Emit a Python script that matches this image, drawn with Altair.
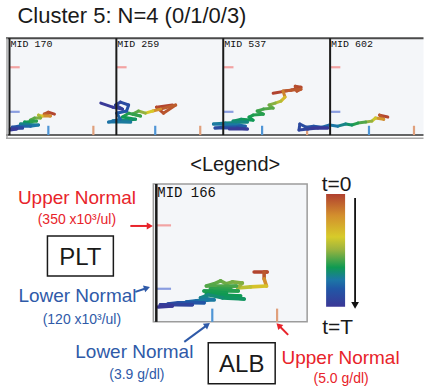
import math
import altair as alt
import pandas as pd

# ---------------- data ----------------
TITLE = "Cluster 5: N=4 (0/1/0/3)"
PANEL_LABELS = ["MID 170", "MID 259", "MID 537", "MID 602"]
LEGEND_LABEL = "MID 166"

ALB_MIN, ALB_MAX = 2.95, 5.55
ALB_MAX_LEG = 5.51
PLT_MIN, PLT_MAX = 0, 500
ALB_LOW, ALB_UP = 3.9, 5.0
PLT_LOW, PLT_UP = 120, 350

# trajectories (ALB g/dl, PLT x10^3/ul), ordered t=0 -> t=T, with time fraction
alb_170 = [4.05, 3.90, 3.80, 3.95, 3.75, 3.66, 3.71, 3.56, 3.46, 3.61, 3.41, 3.32, 3.39, 3.22, 3.66, 3.46, 3.17, 3.02, 3.27, 2.97, 3.12, 2.97]
plt_170 = [108, 118, 108, 98, 98, 103, 88, 88, 77, 72, 67, 67, 57, 57, 52, 46, 46, 41, 36, 31, 31, 26]
t_170 = [0, .03, .06, .1, .3, .42, .5, .55, .58, .61, .63, .65, .67, .7, .74, .78, .82, .86, .9, .94, .97, 1.0]

alb_259 = [4.32, 3.93, 4.10, 4.40, 4.03, 3.84, 3.66, 3.49, 3.35, 3.54, 3.25, 3.10, 3.42, 3.20, 2.86, 3.30, 2.76, 3.05, 2.96, 3.20, 3.25, 3.05, 2.93, 3.10, 2.86, 2.57]
plt_259 = [155, 144, 113, 155, 134, 124, 113, 124, 108, 98, 113, 93, 82, 77, 72, 67, 67, 82, 113, 124, 155, 170, 155, 134, 144, 165]
t_259 = [0, .02, .04, .06, .08, .3, .45, .55, .58, .6, .62, .64, .66, .69, .72, .74, .76, .79, .82, .85, .88, .91, .93, .95, .97, 1.0]

alb_537 = [4.17, 4.61, 4.85, 4.71, 4.75, 4.85, 4.41, 4.46, 4.36, 4.22, 4.07, 4.17, 3.93, 3.78, 3.93, 3.68, 3.58, 3.68, 3.39, 3.19, 3.54, 3.00, 2.71, 3.34, 3.49, 2.95, 2.75, 3.29, 3.54, 3.10]
plt_537 = [216, 232, 247, 252, 227, 237, 227, 196, 175, 165, 155, 139, 134, 124, 108, 103, 93, 77, 82, 72, 67, 62, 57, 52, 46, 41, 36, 36, 31, 31]
t_537 = [0, .01, .02, .03, .04, .05, .07, .25, .4, .5, .53, .56, .58, .6, .62, .63, .64, .65, .66, .68, .7, .72, .74, .77, .8, .84, .88, .92, .96, 1.0]

alb_602 = [4.36, 4.16, 4.26, 4.06, 3.97, 3.82, 3.63, 3.48, 3.33, 3.14, 2.94, 2.75, 2.55, 2.36, 2.21, 2.19, 2.41, 2.65, 2.89, 2.50]
plt_602 = [93, 103, 82, 88, 72, 67, 62, 52, 57, 46, 52, 41, 46, 41, 57, 26, 31, 36, 36, 36]
t_602 = [0, .04, .08, .35, .45, .55, .6, .65, .7, .74, .78, .82, .85, .88, .9, .92, .94, .96, .98, 1.0]

alb_166 = [4.61, 4.83, 4.78, 4.78, 4.82, 4.55, 4.33,
           4.41, 4.24, 4.14, 4.04, 3.93, 3.80, 4.31, 4.00, 4.21, 3.87, 4.34, 3.90, 3.76, 4.14, 3.80, 4.38, 4.07, 4.44,
           4.07, 3.83, 3.70, 3.93, 3.63, 3.46, 3.76, 3.32, 3.15, 3.56, 3.02, 3.22, 2.98]
plt_166 = [181, 181, 181, 156, 130, 127, 123,
           141, 145, 138, 149, 138, 130, 130, 123, 120, 120, 112, 112, 112, 105, 101, 94, 94, 83,
           87, 98, 87, 80, 76, 72, 69, 69, 65, 62, 62, 58, 54]
t_166 = [0, .02, .04, .08, .3, .4, .46,
         .52, .53, .54, .55, .56, .57, .58, .59, .6, .61, .62, .63, .635, .64, .645, .65, .655, .66,
         .68, .7, .72, .74, .77, .8, .83, .86, .89, .92, .95, .98, 1.0]

TIME_STOPS = [0, 0.19, 0.38, 0.49, 0.65, 0.76, 0.84, 1.0]
TIME_COLORS = ["#b0402f", "#d38f2d", "#d7cb2a", "#9db43e", "#0f9a52", "#1c77a6", "#2157a6", "#3b3796"]

# ---------------- styles / layout ----------------
PANEL_W, PANEL4_W, PANEL_H = 106.5, 95, 97
LEG_W, LEG_H = 151, 138
SPACER_W, ROW_GAP = 147, 16
TICK_PLT, TICK_ALB = 48, 0.25
RED, BLUE = "#e8232a", "#2f5aa8"
C_XLOW, C_XUP, C_YUP, C_YLOW = "#4f95d6", "#e0a07c", "#f2a3a3", "#8a9de0"
BG = "#f4f6f9"
FONT = "Liberation Sans"
MONO = "Liberation Mono"

ONE = pd.DataFrame({"k": [0]})
TIME_SCALE = alt.Scale(domain=TIME_STOPS, range=TIME_COLORS, interpolate="rgb")


def segments(alb, plt, ts):
    n = len(alb)
    return pd.DataFrame({
        "alb": alb[:-1], "plt": plt[:-1], "alb2": alb[1:], "plt2": plt[1:],
        "t": [(ts[i] + ts[i + 1]) / 2 for i in range(n - 1)],
    })


def scales(alb_max):
    return (alt.Scale(domain=[ALB_MIN, alb_max], nice=False, zero=False),
            alt.Scale(domain=[PLT_MIN, PLT_MAX], nice=False, zero=False))


def data_rule(x, x2, y, y2, color, width, xs, ys):
    df = pd.DataFrame({"x": [x], "x2": [x2], "y": [y], "y2": [y2]})
    return alt.Chart(df).mark_rule(color=color, strokeWidth=width, clip=False).encode(
        x=alt.X("x:Q", scale=xs, axis=None), x2="x2:Q",
        y=alt.Y("y:Q", scale=ys, axis=None), y2="y2:Q")


def trajectory(alb, plt, ts, xs, ys, width):
    return alt.Chart(segments(alb, plt, ts)).mark_rule(
        strokeWidth=width, strokeCap="round", clip=False).encode(
        x=alt.X("alb:Q", scale=xs, axis=None), x2="alb2:Q",
        y=alt.Y("plt:Q", scale=ys, axis=None), y2="plt2:Q",
        color=alt.Color("t:Q", scale=TIME_SCALE, legend=None))


def prule(x, y, x2, y2, color, width):
    return alt.Chart(ONE).mark_rule(color=color, strokeWidth=width).encode(
        x=alt.value(x), y=alt.value(y), x2=alt.value(x2), y2=alt.value(y2))


def prect(x, y, x2, y2, **kw):
    return alt.Chart(ONE).mark_rect(**kw).encode(
        x=alt.value(x), y=alt.value(y), x2=alt.value(x2), y2=alt.value(y2))


def ptext(s, x, y, size, color="#1a1a1a", align="center", font=FONT, baseline="alphabetic"):
    return alt.Chart(ONE).mark_text(text=s, align=align, baseline=baseline, font=font,
                                    fontSize=size, color=color).encode(
        x=alt.value(x), y=alt.value(y))


def parrow(x1, y1, x2, y2, color, width=2.0, head=50):
    dx, dy = x2 - x1, y2 - y1
    L = math.hypot(dx, dy)
    ux, uy = dx / L, dy / L
    hx, hy = x2 - ux * 3.5, y2 - uy * 3.5
    ang = math.degrees(math.atan2(dx, -dy)) % 360
    shaft = prule(x1, y1, hx, hy, color, width)
    tip = alt.Chart(ONE).mark_point(shape="triangle-up", filled=True, size=head, angle=ang,
                                    color=color, opacity=1, strokeWidth=0).encode(
        x=alt.value(hx), y=alt.value(hy))
    return [shaft, tip]


def normal_ticks(xs, ys):
    return [
        data_rule(ALB_LOW, ALB_LOW, PLT_MIN, TICK_PLT, C_XLOW, 2.2, xs, ys),
        data_rule(ALB_UP, ALB_UP, PLT_MIN, TICK_PLT, C_XUP, 2.2, xs, ys),
        data_rule(ALB_MIN, ALB_MIN + TICK_ALB, PLT_UP, PLT_UP, C_YUP, 2.2, xs, ys),
        data_rule(ALB_MIN, ALB_MIN + TICK_ALB, PLT_LOW, PLT_LOW, C_YLOW, 2.2, xs, ys),
    ]


# ---------------- top strip ----------------
series = [(alb_170, plt_170, t_170), (alb_259, plt_259, t_259),
          (alb_537, plt_537, t_537), (alb_602, plt_602, t_602)]
TOP_W = 3 * PANEL_W + PANEL4_W
panels = []
for i, ((alb, plt, ts), label) in enumerate(zip(series, PANEL_LABELS)):
    w = PANEL_W if i < 3 else PANEL4_W
    amax = ALB_MIN + (ALB_MAX - ALB_MIN) * w / PANEL_W
    xs, ys = scales(amax)
    layers = []
    if i == 0:
        layers += [
            prect(-2.5, 0, TOP_W, PANEL_H, fill=BG),
            prule(-3.5, 0, TOP_W, 0, "#4a4a4a", 2),
            prule(-3.5, PANEL_H, TOP_W, PANEL_H, "#333333", 1.5),
            prule(-3.5, PANEL_H + 3.2, TOP_W, PANEL_H + 3.2, "#a8a8a8", 1.5),
            prule(-2.5, 0, -2.5, PANEL_H + 3.2, "#a8a8a8", 1.5),
            ptext(TITLE, 8, -15, 22, align="left"),
        ]
    layers += normal_ticks(xs, ys)
    layers.append(trajectory(alb, plt, ts, xs, ys, 3))
    layers.append(data_rule(ALB_MIN, ALB_MIN, PLT_MIN, PLT_MAX, "#1a1a1a", 2, xs, ys))
    layers.append(ptext(label, 1, 1, 10, color="#111111", align="left", font=MONO, baseline="top"))
    panels.append(alt.layer(*layers).properties(width=w, height=PANEL_H))

top = alt.hconcat(*panels, spacing=0, bounds="flush")

# ---------------- legend panel ----------------
xs, ys = scales(ALB_MAX_LEG)
grad = alt.LinearGradient(
    gradient="linear", x1=0, x2=0, y1=0, y2=1,
    stops=[alt.GradientStop(offset=o, color=c) for o, c in zip(TIME_STOPS, TIME_COLORS)])

leg_layers = [prect(-3, 0, LEG_W, LEG_H, fill=BG, stroke="#9c9c9c", strokeWidth=1.5)]
leg_layers += normal_ticks(xs, ys)
leg_layers.append(trajectory(alb_166, plt_166, t_166, xs, ys, 3.6))
leg_layers.append(data_rule(ALB_MIN, ALB_MIN, PLT_MIN, PLT_MAX, "#1a1a1a", 2.5, xs, ys))
leg_layers.append(ptext(LEGEND_LABEL, 1, 2, 14, color="#111111", align="left", font=MONO, baseline="top"))
leg_layers += [
    ptext("<Legend>", 79, -13, 20),
    ptext("Upper Normal", -79.5, 20, 19, color=RED),
    ptext("(350 x10³/ul)", -79.5, 40, 14, color=RED),
    prect(-109, 52, -43, 92, fill="white", stroke="#1a1a1a", strokeWidth=1.5),
    ptext("PLT", -76, 81.5, 24),
    ptext("Lower Normal", -79, 118, 19, color=BLUE),
    ptext("(120 x10³/ul)", -74.5, 140, 14, color=BLUE),
    ptext("Lower Normal", -22, 174, 19, color=BLUE),
    ptext("(3.9 g/dl)", -19.5, 195, 14, color=BLUE),
    prect(52, 159, 119, 200, fill="white", stroke="#1a1a1a", strokeWidth=1.5),
    ptext("ALB", 85.5, 188, 24),
    ptext("Upper Normal", 184.5, 180, 19, color=RED),
    ptext("(5.0 g/dl)", 185, 199, 14, color=RED),
    prect(170, 10, 189, 123, fill=grad),
    ptext("t=0", 180.5, 7, 21),
    ptext("t=T", 181.5, 150, 21),
]
leg_layers += parrow(-26, 42, -3, 42, RED)
leg_layers += parrow(-21, 108, -6, 103, BLUE)
leg_layers += parrow(28, 158, 54, 139, BLUE)
leg_layers += parrow(132, 151, 120, 139, RED)
leg_layers += parrow(199, 14, 199, 125, "#111111", width=1.8, head=60)

legend = alt.layer(*leg_layers).properties(width=LEG_W, height=LEG_H)
spacer = alt.Chart(ONE).mark_point(opacity=0).encode(
    x=alt.value(SPACER_W / 2), y=alt.value(5)).properties(width=SPACER_W, height=10)
bottom = alt.hconcat(spacer, legend, spacing=0, bounds="flush")

chart = alt.vconcat(top, bottom, spacing=ROW_GAP, bounds="full").properties(
    padding={"left": 4.5, "top": 5, "right": 0, "bottom": 0},
    background="white",
).configure_view(stroke=None)

chart.save("out.html", embed_options={"renderer": "svg", "actions": False})
